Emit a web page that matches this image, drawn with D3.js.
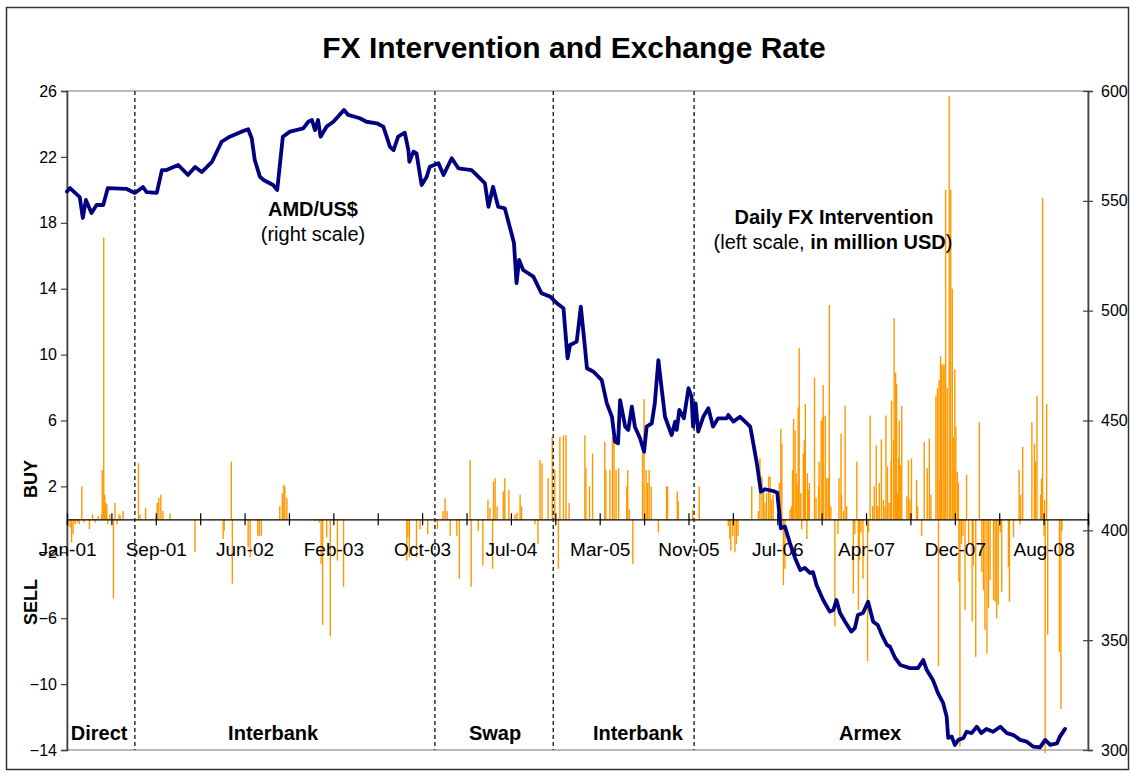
<!DOCTYPE html>
<html><head><meta charset="utf-8">
<script src="https://cdn.jsdelivr.net/npm/d3@7"></script>
<style>body{margin:0;background:#fff}text{font-family:"Liberation Sans",Arial,sans-serif}</style>
</head><body><svg id="c" width="1130" height="773"></svg>
<script>
// ---------- data ----------
const title = "FX Intervention and Exchange Rate";
const xTickLabels = ["Jan-01","Sep-01","Jun-02","Feb-03","Oct-03","Jul-04","Mar-05","Nov-05","Jul-06","Apr-07","Dec-07","Aug-08"];
const dayCount = 2001;          // business days on the category axis
const tickStep = 87;            // days between tick marks (labels every 2 ticks)
const leftTicks = [-14,-10,-6,-2,2,6,10,14,18,22,26];
const rightTicks = [300,350,400,450,500,550,600];
const regimeBreaks = [133,721,953,1229];
const regimeNames = ["Direct","Interbank","Swap","Interbank","Armex"];
const regimeLabelDay = [63,404,839,1119,1574];

// AMD per US$ (right scale): [day, rate]
const exchangeRate = [
[0,554.2],[6,555.8],[25,551.7],[31,542.2],[37,550.4],[48,544.5],[58,548.1],[71,548.1],[80,555.8],[117,555.4],
[133,553.6],[149,556.3],[156,554.0],[176,553.6],[186,564.0],[195,564.0],[218,566.3],[237,561.8],[251,565.4],[264,563.1],
[284,567.7],[303,576.9],[319,579.2],[342,581.5],[355,582.6],[362,578.5],[368,568.6],[378,561.0],[385,559.5],[404,557.2],
[412,554.9],[423,579.2],[437,581.5],[463,583.0],[473,586.0],[480,586.8],[486,582.2],[492,586.8],[497,579.2],[509,583.8],
[522,586.0],[543,591.4],[551,589.1],[574,587.6],[587,586.0],[607,585.3],[620,583.8],[633,574.6],[640,573.1],[649,579.2],
[662,581.0],[669,573.1],[671,567.8],[679,572.4],[685,571.6],[695,557.2],[705,561.0],[711,565.5],[728,567.1],[738,561.8],
[754,569.4],[767,564.8],[793,564.0],[809,560.3],[819,558.0],[826,547.3],[835,556.4],[845,547.3],[858,546.6],[872,534.4],
[876,530.7],[881,512.5],[886,523.1],[894,518.5],[914,515.5],[930,507.9],[947,506.4],[960,503.4],[973,501.1],[981,478.3],
[986,484.4],[999,485.9],[1007,501.8],[1015,483.6],[1019,473.8],[1032,472.2],[1048,468.4],[1058,457.8],[1068,451.7],[1074,440.4],
[1080,439.6],[1084,459.3],[1094,447.2],[1100,445.7],[1107,456.3],[1113,447.2],[1123,441.9],[1131,435.8],[1136,447.2],[1146,448.7],
[1152,457.8],[1159,477.5],[1165,465.4],[1172,451.7],[1185,443.4],[1192,449.5],[1195,445.7],[1200,454.8],[1209,451.0],[1218,464.7],
[1224,460.8],[1227,447.2],[1232,457.8],[1237,444.9],[1247,451.7],[1257,455.6],[1266,447.2],[1276,451.0],[1293,451.0],[1296,452.5],
[1306,449.5],[1319,451.7],[1329,449.5],[1339,447.2],[1345,439.6],[1352,430.5],[1360,417.6],[1368,418.7],[1384,417.9],[1392,417.1],
[1399,400.9],[1407,401.7],[1417,394.1],[1427,387.3],[1437,381.9],[1446,382.9],[1456,380.6],[1462,381.0],[1469,375.1],[1482,368.3],
[1495,363.0],[1502,363.7],[1508,368.3],[1515,362.4],[1525,358.4],[1537,353.9],[1544,355.5],[1550,361.5],[1560,362.4],[1570,367.5],
[1580,358.4],[1589,356.9],[1597,352.4],[1607,347.8],[1613,347.0],[1623,341.9],[1633,338.7],[1652,337.3],[1668,337.3],[1678,341.0],
[1685,336.4],[1697,331.9],[1707,325.9],[1717,321.4],[1724,315.2],[1727,305.5],[1734,306.1],[1740,302.3],[1747,304.6],[1757,305.5],
[1763,308.3],[1773,307.7],[1783,310.6],[1792,307.7],[1802,309.6],[1815,308.3],[1829,310.6],[1842,307.7],[1855,306.8],[1868,304.6],
[1881,303.8],[1894,301.5],[1907,301.2],[1917,304.6],[1927,302.3],[1940,303.0],[1946,306.1],[1956,309.6]
];

// Daily FX intervention, million USD (left scale): [day, amount]; + buy, - sell
const interventions = [
[6,-0.5],[9,-1.4],[12,-0.9],[16,-0.3],[20,-0.2],[24,-0.3],[29,2.0],[33,-0.2],[44,-0.6],[50,0.3],
[55,-0.2],[61,0.2],[68,0.3],[69,3.0],[72,17.1],[74,1.5],[76,1.0],[78,0.9],[80,-0.3],[84,0.3],
[91,-4.8],[94,1.0],[98,-0.3],[102,0.3],[104,0.25],[110,0.5],
[140,3.4],[143,0.3],[154,0.7],[177,1.0],[180,1.3],[184,1.5],[188,0.5],[202,0.35],[251,-2.0],[306,-1.2],
[308,-0.7],[322,3.5],[324,-3.9],[355,-1.7],[359,-2.3],[374,-1.0],[377,-1.0],[381,-1.0],[417,0.8],[422,1.6],
[425,2.1],[427,2.0],[431,1.3],[486,-0.1],[494,-0.2],[498,-2.7],[501,-6.4],[509,-1.1],[516,-7.1],[530,-2.5],
[542,-4.1],[666,-2.5],[668,-1.1],[671,-2.3],[685,-2.3],[692,-0.6],[707,-0.9],
[726,-0.6],[737,0.5],[741,1.3],[745,0.5],[751,-1.0],[764,-1.0],[769,-3.6],[790,3.6],[792,-4.1],[806,-0.7],
[815,-2.8],[825,1.2],[829,0.7],[834,-3.0],[836,2.3],[839,2.5],[843,0.8],[855,1.7],[858,2.5],[866,1.8],
[878,0.3],[882,0.4],[888,1.5],[891,0.8],[917,-0.3],[923,-1.5],[927,3.6],[931,3.4],[943,2.5],
[951,5.0],[956,3.0],[963,-3.0],[966,5.0],[973,5.1],[978,5.1],[984,1.0],[1015,5.1],[1017,3.1],[1024,2.0],
[1030,4.0],[1054,4.7],[1056,3.0],[1064,3.0],[1069,5.0],[1072,4.9],[1076,3.0],[1081,3.1],[1097,2.0],[1099,3.0],
[1102,0.6],[1109,-2.7],[1128,4.0],[1131,7.3],[1135,3.0],[1138,2.2],[1141,3.0],[1145,2.0],[1159,-0.8],[1175,2.0],
[1177,2.0],[1196,1.7],[1198,1.1],[1226,0.6],
[1239,2.0],[1296,-0.4],[1299,-1.2],[1301,-1.9],[1305,-1.0],[1309,-2.0],[1312,-1.5],[1315,-1.0],[1342,2.0],[1355,0.5],
[1358,3.7],[1362,2.6],[1365,1.7],[1368,1.0],[1371,1.6],[1375,2.6],[1378,2.6],[1381,1.2],[1384,1.5],[1396,2.2],
[1399,5.5],[1401,4.6],[1404,-4.0],[1407,-3.0],[1417,0.6],[1420,0.8],[1422,3.0],[1424,6.1],[1427,5.4],[1429,2.8],
[1431,2.1],[1433,6.8],[1435,10.4],[1438,1.6],[1440,-0.6],[1443,4.0],[1445,4.8],[1447,7.0],[1450,-1.2],[1451,2.8],
[1453,1.8],[1455,2.2],[1465,8.6],[1468,1.3],[1473,2.0],[1474,3.5],[1478,6.0],[1481,6.2],[1482,8.15],[1486,6.3],
[1489,2.5],[1492,2.5],[1494,13.0],[1497,0.8],[1505,-6.5],[1511,-0.9],[1513,2.5],[1517,5.2],[1518,1.5],[1522,0.5],
[1525,6.9],[1528,0.8],[1541,-4.5],[1544,-0.9],[1548,3.5],[1551,-5.5],[1553,-2.5],[1556,-0.8],[1560,-3.6],[1569,-8.6],
[1571,-0.8],[1574,6.3],[1579,0.8],[1582,2.0],[1586,4.5],[1589,0.8],[1592,2.2],[1596,4.85],[1600,1.2],[1603,0.8],
[1605,6.3],[1608,3.2],[1611,1.0],[1614,1.0],[1615,3.5],[1616,7.2],[1620,4.8],[1621,12.2],[1624,8.9],[1626,8.2],
[1628,1.6],[1630,3.7],[1631,6.0],[1634,3.3],[1636,6.9],[1646,1.4],[1649,3.6],[1652,1.2],[1655,3.7],[1665,2.4],
[1667,0.8],[1675,-1.0],[1680,4.7],[1686,3.1],[1690,4.9],[1693,1.5],[1703,7.5],[1706,7.95],[1708,-8.9],[1709,8.45],
[1711,2.4],[1712,9.9],[1714,9.4],[1717,9.4],[1719,9.4],[1722,20.0],[1725,8.0],[1729,25.7],[1732,20.0],[1735,14.0],
[1738,5.0],[1740,9.1],[1742,5.6],[1745,2.9],[1747,2.2],[1748,-3.8],[1750,-13.8],[1753,-1.5],[1756,-1.0],[1760,-5.5],
[1763,2.7],[1767,-1.5],[1774,-6.2],[1776,-2.8],[1781,-8.35],[1788,5.9],[1793,-3.2],[1796,-4.3],[1799,-6.7],[1803,-8.15],
[1806,-5.4],[1809,-3.7],[1816,-4.9],[1819,-5.0],[1822,-6.0],[1825,-5.2],[1829,-0.8],[1832,-4.4],[1845,-2.9],[1847,-5.0],
[1855,-1.1],[1866,3.0],[1868,-0.3],[1869,1.5],[1873,4.4],[1891,5.9],[1896,4.6],[1898,3.5],[1901,7.5],[1908,1.5],
[1910,2.5],[1912,19.5],[1915,-1.0],[1916,1.2],[1917,-14.2],[1920,7.0],[1922,-7.0],[1945,-8.05],[1948,-11.5],[1950,-0.7]
];

// ---------- drawing ----------
const svg = d3.select("#c");
const W = 1130, H = 773;
const plot = {left: 67, right: 1088, top: 91, bottom: 750};

svg.append("rect").attr("x",0).attr("y",0).attr("width",W).attr("height",H).attr("fill","#fff");
svg.append("rect").attr("x",6.5).attr("y",7.5).attr("width",1122).attr("height",762)
  .attr("fill","none").attr("stroke","#333").attr("stroke-width",1.5);

const x = d3.scaleLinear().domain([0, dayCount]).range([plot.left, plot.right]);
const yL = d3.scaleLinear().domain([-14, 26]).range([plot.bottom, plot.top]);
const yR = d3.scaleLinear().domain([300, 600]).range([plot.bottom, plot.top]);

// plot area border
svg.append("rect").attr("x",plot.left).attr("y",plot.top)
  .attr("width",plot.right-plot.left).attr("height",plot.bottom-plot.top)
  .attr("fill","none").attr("stroke","#8c8c8c").attr("stroke-width",1.2);

// bars
svg.append("g").selectAll("rect").data(interventions).join("rect")
  .attr("x", d => x(d[0]) - 0.7)
  .attr("width", 1.4)
  .attr("y", d => yL(Math.max(0, d[1])))
  .attr("height", d => Math.abs(yL(d[1]) - yL(0)))
  .attr("fill", "#FF9900");

// left axis
const gL = svg.append("g").attr("transform",`translate(${plot.left},0)`)
  .call(d3.axisLeft(yL).tickValues(leftTicks).tickSize(6).tickPadding(4).tickFormat(d3.format("d")));
gL.select(".domain").attr("stroke","#404040").attr("stroke-width",1.6);
gL.selectAll(".tick line").attr("stroke","#404040").attr("stroke-width",1.2);
gL.selectAll("text").attr("font-size",16).attr("fill","#000").attr("font-family","Liberation Sans, Arial");
// right axis
const gR = svg.append("g").attr("transform",`translate(${plot.right},0)`)
  .call(d3.axisRight(yR).tickValues(rightTicks).tickSize(5).tickPadding(8));
gR.select(".domain").attr("stroke","#404040").attr("stroke-width",1.6);
gR.selectAll(".tick line").attr("stroke","#404040").attr("stroke-width",1.2).attr("x1",-5);
gR.selectAll("text").attr("font-size",16).attr("fill","#000").attr("font-family","Liberation Sans, Arial");

// x axis at zero
const xTicks = d3.range(0, dayCount + 1, tickStep);
const gX = svg.append("g").attr("transform",`translate(0,${yL(0)})`)
  .call(d3.axisBottom(x).tickValues(xTicks).tickSize(6)
    .tickFormat((d,i) => i % 2 === 0 && xTickLabels[i/2] ? xTickLabels[i/2] : ""));
gX.select(".domain").attr("stroke","#000").attr("stroke-width",1.4);
gX.selectAll(".tick line").attr("stroke","#000").attr("stroke-width",1.2).attr("y1",-6).attr("y2",6);
gX.selectAll("text").attr("font-size",19).attr("fill","#000").attr("y",37).attr("dy",0)
  .attr("font-family","Liberation Sans, Arial");

// regime dashed lines
svg.append("g").selectAll("line").data(regimeBreaks).join("line")
  .attr("x1", d => x(d)).attr("x2", d => x(d))
  .attr("y1", plot.top).attr("y2", plot.bottom)
  .attr("stroke","#222").attr("stroke-width",1.4).attr("stroke-dasharray","4,3");

// exchange rate line
svg.append("path").datum(exchangeRate)
  .attr("d", d3.line().x(d => x(d[0])).y(d => yR(d[1])))
  .attr("fill","none").attr("stroke","#000080").attr("stroke-width",3.8)
  .attr("stroke-linejoin","round").attr("stroke-linecap","round");

// regime labels
svg.append("g").selectAll("text").data(regimeNames).join("text")
  .attr("x", (d,i) => x(regimeLabelDay[i])).attr("y", 740)
  .attr("text-anchor","middle").attr("font-size",20).attr("font-weight","bold").text(d => d);

// title
svg.append("text").attr("x",574).attr("y",58).attr("text-anchor","middle")
  .attr("font-size",30).attr("font-weight","bold").text(title);

// annotations
svg.append("text").attr("x",313).attr("y",216).attr("text-anchor","middle")
  .attr("font-size",20).attr("font-weight","bold").text("AMD/US$");
svg.append("text").attr("x",313).attr("y",241).attr("text-anchor","middle")
  .attr("font-size",20).text("(right scale)");
svg.append("text").attr("x",834).attr("y",224).attr("text-anchor","middle")
  .attr("font-size",20).attr("font-weight","bold").text("Daily FX Intervention");
const t2 = svg.append("text").attr("x",833).attr("y",249).attr("text-anchor","middle").attr("font-size",20);
t2.append("tspan").text("(left scale, ");
t2.append("tspan").attr("font-weight","bold").text("in million USD");
t2.append("tspan").text(")");

// BUY / SELL
svg.append("text").attr("transform","translate(37,479) rotate(-90)").attr("text-anchor","middle")
  .attr("font-size",18).attr("font-weight","bold").text("BUY");
svg.append("text").attr("transform","translate(37,602) rotate(-90)").attr("text-anchor","middle")
  .attr("font-size",18).attr("font-weight","bold").text("SELL");
</script></body></html>
